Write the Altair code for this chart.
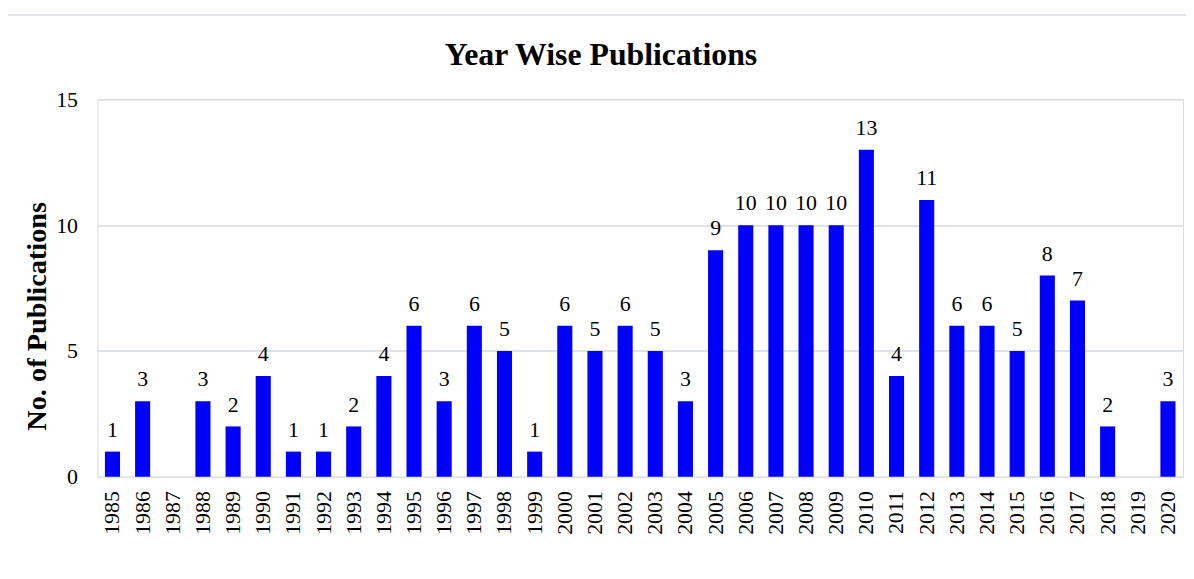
import altair as alt
import pandas as pd

years = [str(y) for y in range(1985, 2021)]
counts = [1, 3, 0, 3, 2, 4, 1, 1, 2, 4, 6, 3, 6, 5, 1, 6, 5, 6, 5, 3,
          9, 10, 10, 10, 10, 13, 4, 11, 6, 6, 5, 8, 7, 2, 0, 3]
labels = ["" if c == 0 else str(c) for c in counts]
title_text = ["Year Wise Publications"]

df = pd.DataFrame({"year": years, "count": counts, "label": labels})
tdf = pd.DataFrame({"t": title_text})

FONT = "Liberation Serif"

x = alt.X("year:N", sort=years, title=None,
          scale=alt.Scale(paddingInner=0.5, paddingOuter=0.25),
          axis=alt.Axis(labelAngle=-90, labelFontSize=22, labelFont=FONT,
                        labelColor="black", labelPadding=14, ticks=False,
                        domain=False, grid=False, labelBaseline="middle"))
y = alt.Y("count:Q", title="No. of Publications",
          scale=alt.Scale(domain=[0, 15], nice=False),
          axis=alt.Axis(values=[0, 5, 10, 15], labelFontSize=22, labelFont=FONT,
                        labelColor="black", labelPadding=20, ticks=False,
                        domain=False, grid=True, gridColor="#dfe2e8", gridWidth=2,
                        titleFont=FONT, titleFontSize=28.5, titleFontWeight="bold",
                        titleColor="black", titleX=-61, titleY=218,
                        titleAngle=270, titleAlign="center", titleBaseline="middle"))

bars = alt.Chart(df).mark_bar(color="#0000ff").encode(x=x, y=y)
text = alt.Chart(df).mark_text(font=FONT, fontSize=22, color="black",
                               baseline="alphabetic", dy=-15).encode(
    x=alt.X("year:N", sort=years), y="count:Q", text="label:N")

title = alt.Chart(tdf).mark_text(font=FONT, fontSize=32, fontWeight="bold",
                                 color="black", baseline="alphabetic",
                                 align="center").encode(
    x=alt.value(507), y=alt.value(-35), text="t:N")

border_v = alt.Chart(tdf).mark_rule(color="#dadde2", strokeWidth=1.5).encode(
    x=alt.value(-91), y=alt.value(-85), y2=alt.value(600))
border_h = alt.Chart(tdf).mark_rule(color="#dadde2", strokeWidth=1.5).encode(
    x=alt.value(-91), x2=alt.value(1200), y=alt.value(-85))

chart = alt.layer(border_v, border_h, bars, text, title).properties(
    width=1093, height=380,
    autosize=alt.AutoSizeParams(type="none"),
    padding={"left": 90, "top": 90, "right": 3, "bottom": 101},
).configure_view(fill="#f2f2f2", stroke=None).configure(background="white")

chart.save("out.html", embed_options={"renderer": "svg", "actions": False})
